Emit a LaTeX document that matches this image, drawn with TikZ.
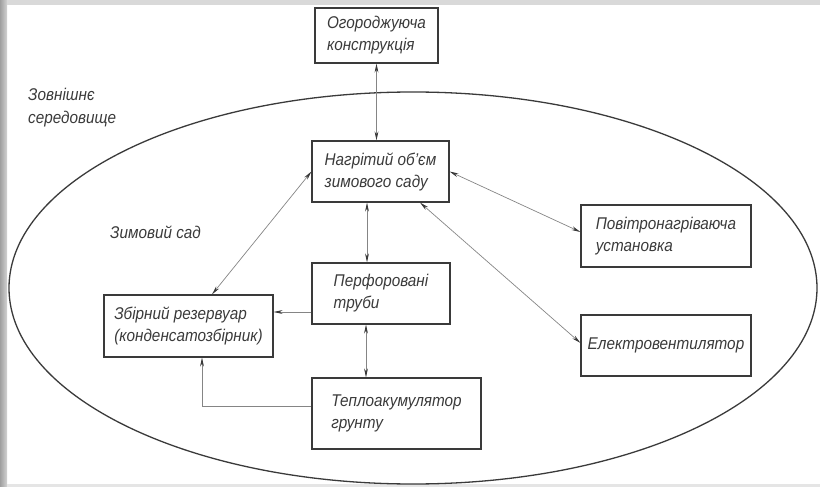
\documentclass[tikz,border=0pt]{standalone}
\usepackage{fontspec}
\setmainfont{Liberation Sans}[FakeStretch=0.9]
\usetikzlibrary{arrows.meta}
\definecolor{inkc}{HTML}{3A3A3A}
\definecolor{linec}{HTML}{858585}
\tikzset{
  box/.style={draw=inkc, line width=1.1pt, rectangle, inner sep=0pt, align=left,
    text=inkc, font=\fontsize{17}{22}\selectfont\itshape},
  lbl/.style={text=inkc, align=left, inner sep=0pt, font=\fontsize{17}{23}\selectfont\itshape},
  conn/.style={draw=linec, line width=0.7pt},
  tip/.tip={Stealth[length=9pt,width=3.8pt,color=inkc]},
  bi/.style={conn, tip-tip},
  uni/.style={conn, -tip}
}
\begin{document}
\begin{tikzpicture}[x=1pt,y=-1pt]
\useasboundingbox (0,0) rectangle (820,487);
% screenshot frame
\shade[left color=gray!75, right color=gray!35] (0,0) rectangle (7,487);
\shade[left color=gray!30, middle color=white, right color=gray!30] (7,0) rectangle (820,5);
\fill[gray!20] (7,484) rectangle (820,487);
% ellipse
\draw[inkc, line width=1.3pt] (413,288) ellipse [x radius=404pt, y radius=196pt];
% labels
\node[lbl, anchor=west] (outer) at (28,108) {Зовнішнє\\середовище};
\node[lbl, anchor=west] (garden) at (110,232) {Зимовий сад};
% boxes
\node[box, minimum width=123pt, minimum height=55pt] (ogor) at (376.5,35.5) {Огороджуюча\\конструкція};
\node[box, minimum width=137pt, minimum height=61pt] (nagr) at (380.5,171.5) {Нагрітий об'єм\\зимового саду};
\node[box, minimum width=138pt, minimum height=61pt] (perf) at (381,293.5) {Перфоровані\\труби};
\node[box, minimum width=169pt, minimum height=62pt] (zbir) at (188.5,326) {Збірний резервуар\\(конденсатозбірник)};
\node[box, minimum width=169pt, minimum height=71pt] (tepl) at (396.5,413.5) {Теплоакумулятор\\грунту};
\node[box, minimum width=170pt, minimum height=62pt] (povit) at (666,236) {Повітронагріваюча\\установка};
\node[box, minimum width=170pt, minimum height=61pt] (elek) at (666,345.5) {Електровентилятор};
% connectors
\draw[bi] (ogor.south) -- (ogor.south |- nagr.north);
\draw[bi] ([xshift=-13.5pt]nagr.south) -- ([xshift=-13.5pt]nagr.south |- perf.north);
\draw[bi] ([xshift=-15pt]perf.south) -- ([xshift=-15pt]perf.south |- tepl.north);
\draw[uni] ([yshift=-18.5pt]perf.west) -- ([yshift=-18.5pt]perf.west -| zbir.east);
\draw[uni] ([yshift=7.5pt]tepl.west) -| ([xshift=13.5pt]zbir.south);
\draw[bi] ([xshift=23.5pt]zbir.north) -- (nagr.west);
\draw[bi] (nagr.east) -- ([yshift=4pt]povit.west);
\draw[bi] ([xshift=39.5pt]nagr.south) -- ([yshift=2.5pt]elek.west);
\end{tikzpicture}
\end{document}
